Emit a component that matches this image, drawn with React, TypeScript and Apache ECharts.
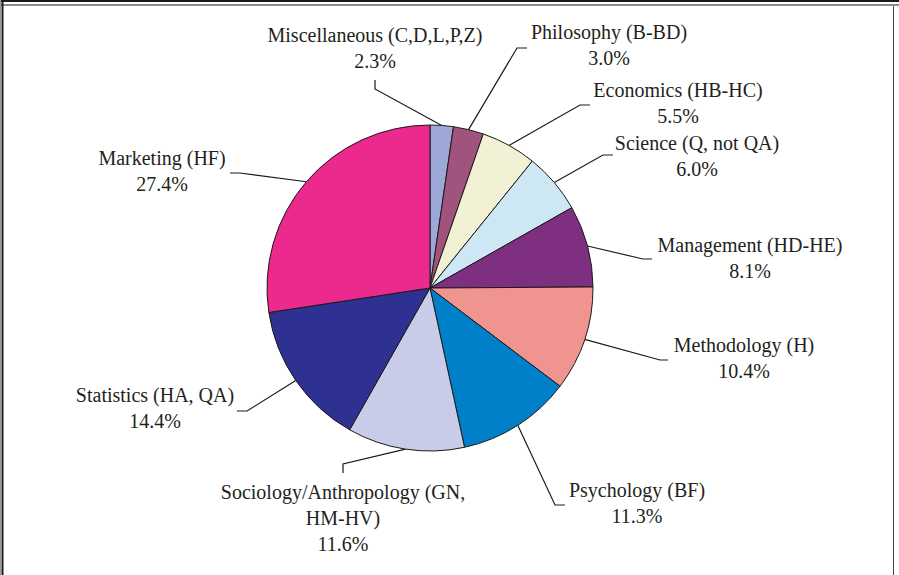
import React, { useEffect, useRef } from "react";
import * as echarts from "echarts";

const CATEGORIES = [
  "Miscellaneous (C,D,L,P,Z)",
  "Philosophy (B-BD)",
  "Economics (HB-HC)",
  "Science (Q, not QA)",
  "Management (HD-HE)",
  "Methodology (H)",
  "Psychology (BF)",
  "Sociology/Anthropology (GN,\nHM-HV)",
  "Statistics (HA, QA)",
  "Marketing (HF)",
];
const SHARES = [2.3, 3.0, 5.5, 6.0, 8.1, 10.4, 11.3, 11.6, 14.4, 27.4];
const COLORS = [
  "#9da8d8",
  "#a0537c",
  "#f3f1d5",
  "#cde8f4",
  "#7f2f80",
  "#f0948f",
  "#0080c8",
  "#c8cce8",
  "#2e3192",
  "#ec2a8e",
];

// label placement (layout only)
const LABEL_POS = [
  { cx: 375, top: 22, elbow: [375, 89], end: [375, 80] },
  { cx: 609, top: 19, elbow: [517, 48], end: [527, 48] },
  { cx: 678, top: 77, elbow: [580, 105], end: [590, 105] },
  { cx: 697, top: 130, elbow: [603, 155], end: [613, 155] },
  { cx: 750, top: 232, elbow: [643, 259], end: [652, 259] },
  { cx: 744, top: 332, elbow: [660, 360], end: [668, 360] },
  { cx: 637, top: 477, elbow: [555, 505], end: [565, 505] },
  { cx: 343, top: 479, elbow: [343, 464], end: [343, 473] },
  { cx: 155, top: 382, elbow: [247, 411], end: [237, 411] },
  { cx: 162, top: 145, elbow: [240, 173], end: [230, 173] },
];

export default function App() {
  const ref = useRef<HTMLDivElement>(null);
  useEffect(() => {
    document.body.style.margin = "0";
    const chart = echarts.init(ref.current!, null, { renderer: "svg" });
    const H = 575;
    chart.setOption({
      animation: false,
      backgroundColor: "#ffffff",
      graphic: [
        { type: "line", shape: { x1: 0, y1: 1, x2: 899, y2: 1 }, style: { stroke: "#1a1a1a", lineWidth: 2 } },
        { type: "line", shape: { x1: 0, y1: 5, x2: 899, y2: 5 }, style: { stroke: "#8c8c8c", lineWidth: 2 } },
        { type: "line", shape: { x1: 0.5, y1: 0, x2: 0.5, y2: H }, style: { stroke: "#9a9a9a", lineWidth: 1 } },
        { type: "line", shape: { x1: 2.5, y1: 0, x2: 2.5, y2: H }, style: { stroke: "#1a1a1a", lineWidth: 2 } },
        { type: "line", shape: { x1: 893.5, y1: 6, x2: 893.5, y2: H }, style: { stroke: "#444", lineWidth: 1 } },
      ],
      series: [
        {
          type: "pie",
          center: [430, 288],
          radius: 163,
          startAngle: 90,
          clockwise: true,
          avoidLabelOverlap: false,
          itemStyle: { borderColor: "#1a1a1a", borderWidth: 1 },
          label: {
            show: true,
            position: "outside",
            fontFamily: "Liberation Serif, Times New Roman, serif",
            fontSize: 20,
            lineHeight: 26,
            color: "#231f20",
            align: "center",
            formatter: (p: any) => `${p.name}\n${Number(p.value).toFixed(1)}%`,
          },
          labelLine: {
            show: true,
            length: 20,
            length2: 10,
            lineStyle: { color: "#1a1a1a", width: 1.2 },
          },
          labelLayout: (params: any) => {
            const L = LABEL_POS[params.dataIndex];
            const pts = params.labelLinePoints;
            const p0 = pts && pts[0] ? pts[0] : L.elbow;
            return {
              x: L.cx,
              y: L.top,
              align: "center",
              verticalAlign: "top",
              labelLinePoints: [p0, L.elbow, L.end],
            };
          },
          emphasis: { disabled: true },
          data: CATEGORIES.map((name, i) => ({
            name,
            value: SHARES[i],
            itemStyle: { color: COLORS[i] },
          })),
        },
      ],
    });
    return () => chart.dispose();
  }, []);
  return <div ref={ref} style={{ width: 899, height: 575, position: "absolute", left: 0, top: 0 }} />;
}
